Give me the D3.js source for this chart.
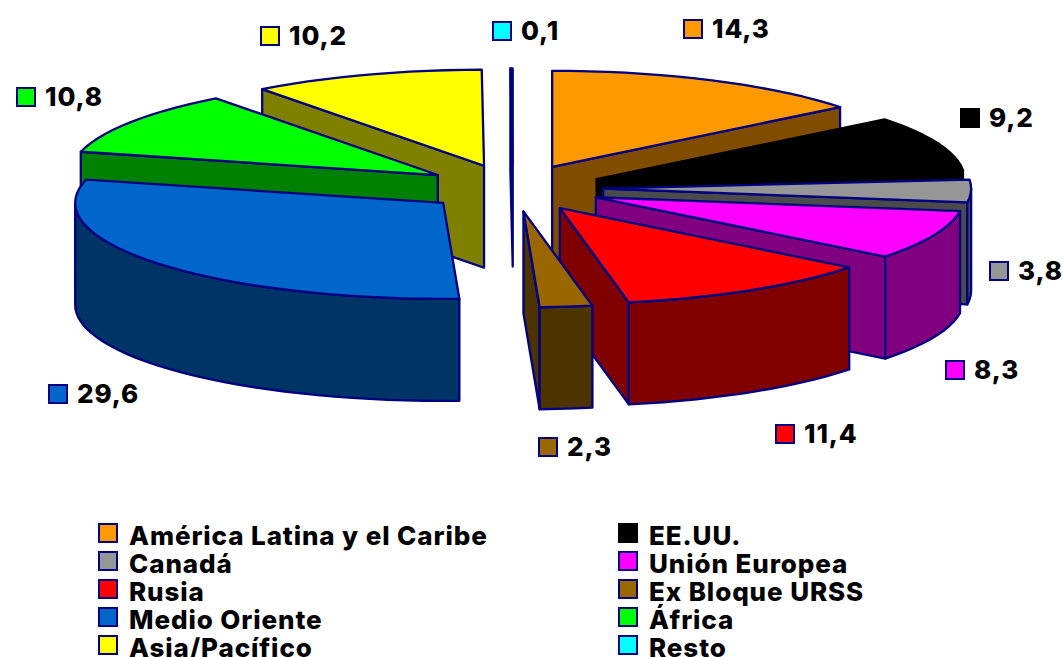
<!DOCTYPE html>
<html>
<head>
<meta charset="utf-8">
<script src="https://cdn.jsdelivr.net/npm/d3@7"></script>
<style>
  html, body { margin: 0; padding: 0; background: #fff; overflow: hidden; }
  text { font-family: "Inter", "Lato", sans-serif; font-weight: 800; fill: #000; letter-spacing: 0.9px; }
</style>
</head>
<body>
<div id="chart"></div>
<script>
const regions = ["América Latina y el Caribe", "EE.UU.", "Canadá", "Unión Europea", "Rusia",
  "Ex Bloque URSS", "Medio Oriente", "África", "Asia/Pacífico", "Resto"]
const shares = [14.3, 9.2, 3.8, 8.3, 11.4, 2.3, 29.6, 10.8, 10.2, 0.1]
const colors = ["#FF9900", "#000000", "#969696", "#FF00FF", "#FF0000",
  "#996600", "#0066CC", "#00FF00", "#FFFF00", "#00FFFF"]

// back to front, by index into the arrays above
const drawOrder = [0, 8, 9, 1, 7, 2, 3, 6, 4, 5]

// top-left of each value label's swatch
const labelPos = [[683, 19], [960, 108], [989, 261], [945, 360], [775, 424],
  [538, 437], [48, 384], [16, 87], [260, 26], [492, 21]]

const width = 1063
const height = 657
const cx = 513, cy = 188    // pie centre
const rx = 368, ry = 96     // projected radii
const depth = 102
const explode = 0.245
const navy = "#000080"

const x = d3.scaleLinear().domain([-1, 1]).range([cx - rx, cx + rx])
const y = d3.scaleLinear().domain([-1, 1]).range([cy - ry, cy + ry])

const pct = d3.formatLocale({decimal: ",", thousands: ".", grouping: [3], currency: ["", ""]}).format(".1f")

const pie = d3.pie().sort(null).startAngle(0).endAngle(2 * Math.PI)
const slices = pie(shares)

const svg = d3.select("#chart").append("svg")
  .attr("width", width)
  .attr("height", height)

const line = d3.line()
const halve = c => { const k = d3.rgb(c); return d3.rgb(k.r / 2, k.g / 2, k.b / 2).formatHex() }
const edge = c => c === "#000000" ? "#000000" : navy

drawOrder.forEach(i => {
  const s = slices[i]
  const mid = (s.startAngle + s.endAngle) / 2
  const ox = explode * Math.sin(mid)
  const oy = -explode * Math.cos(mid)
  const pt = a => [x(ox + Math.sin(a)), y(oy - Math.cos(a))]
  const drop = p => [p[0], p[1] + depth]
  const apex = [x(ox), y(oy)]

  const arcBetween = (a0, a1) => {
    const steps = Math.max(1, Math.ceil((a1 - a0) / 0.05))
    return d3.range(steps + 1).map(k => pt(a0 + (a1 - a0) * k / steps))
  }

  const g = svg.append("g").attr("class", "slice")
  const wall = pts => g.append("path")
    .attr("d", line(pts) + "Z")
    .attr("fill", halve(colors[i]))
    .attr("stroke", edge(colors[i]))
    .attr("stroke-width", 2.3)
    .attr("stroke-linejoin", "round")

  // only the walls that face the viewer
  if (Math.sin(s.startAngle) < -1e-6) {
    const p = pt(s.startAngle)
    wall([apex, p, drop(p), drop(apex)])
  }
  if (Math.sin(s.endAngle) > 1e-6) {
    const p = pt(s.endAngle)
    wall([apex, p, drop(p), drop(apex)])
  }
  const a0 = Math.max(s.startAngle, Math.PI / 2)
  const a1 = Math.min(s.endAngle, 3 * Math.PI / 2)
  if (a1 > a0) {
    const rim = arcBetween(a0, a1)
    wall(rim.concat(rim.map(drop).reverse()))
  }

  g.append("path")
    .attr("d", line([apex].concat(arcBetween(s.startAngle, s.endAngle))) + "Z")
    .attr("fill", colors[i])
    .attr("stroke", edge(colors[i]))
    .attr("stroke-width", 2.3)
    .attr("stroke-linejoin", "round")
})

function swatch(px, py, c) {
  svg.append("rect")
    .attr("x", px + 1)
    .attr("y", py + 1)
    .attr("width", 18)
    .attr("height", 18)
    .attr("fill", c)
    .attr("stroke", edge(c))
    .attr("stroke-width", 2)
}

// value labels
shares.forEach((v, i) => {
  swatch(labelPos[i][0], labelPos[i][1], colors[i])
  svg.append("text")
    .attr("class", "val")
    .attr("x", labelPos[i][0] + 29)
    .attr("y", labelPos[i][1] + 19)
    .attr("font-size", 26)
    .text(pct(v))
})

// legend, two columns filled row by row
regions.forEach((r, i) => {
  const col = i % 2, row = Math.floor(i / 2)
  const lx = col ? 618 : 98
  const ly = 523 + row * 28
  swatch(lx, ly, colors[i])
  svg.append("text")
    .attr("class", "legend")
    .attr("x", lx + 31)
    .attr("y", ly + 22)
    .attr("font-size", 26)
    .text(r)
})
</script>
</body>
</html>
